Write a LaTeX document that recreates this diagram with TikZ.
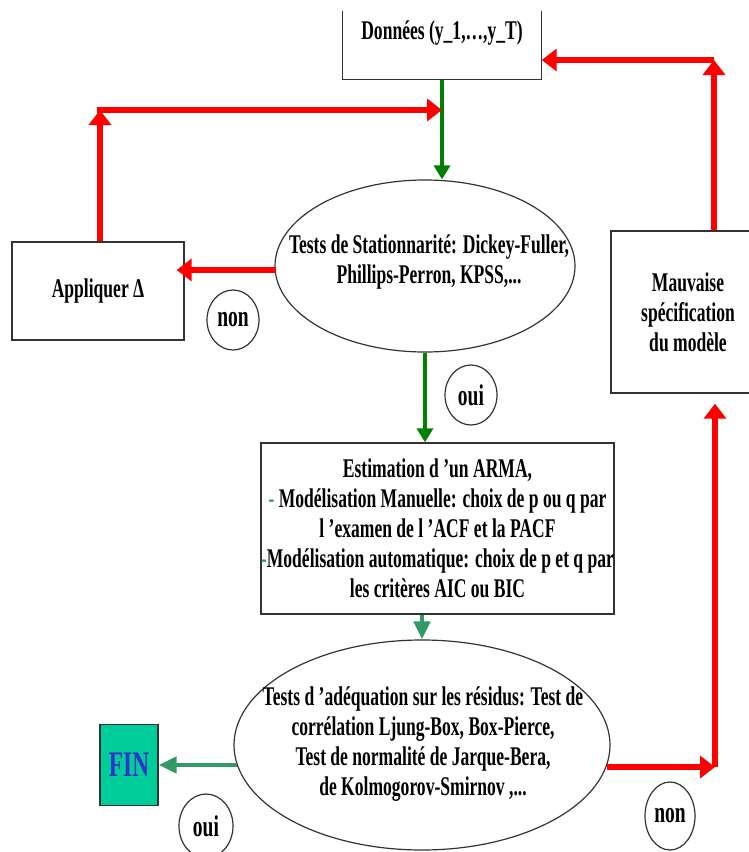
\documentclass[tikz,border=0pt]{standalone}
\usepackage{fontspec}
\usetikzlibrary{arrows.meta, shapes.geometric, calc}
\newfontfamily\chartfont[FakeStretch=0.65]{Liberation Serif}
\definecolor{darkgreen}{RGB}{0,128,0}
\definecolor{seagreen}{RGB}{51,153,102}
\definecolor{finfill}{RGB}{0,204,153}
\definecolor{finblue}{RGB}{51,51,204}
\tikzstyle{box} = [rectangle, draw=black!80, line width=1.4pt, inner sep=0pt, align=center]
\tikzstyle{oval} = [ellipse, draw=black!80, line width=1.2pt, inner sep=0pt]
\tikzstyle{txt} = [align=center, font=\chartfont\bfseries\fontsize{27}{30}\selectfont]
\tikzstyle{choice} = [ellipse, draw=black!80, line width=1.2pt, inner sep=0pt, font=\chartfont\bfseries\fontsize{30}{30}\selectfont]
\tikzstyle{redarrow} = [red, line width=6.5pt, -{Triangle[length=15pt, width=22pt]}]
\tikzstyle{greenarrow} = [darkgreen, line width=4pt, -{Triangle[length=14pt, width=16pt]}]
\tikzstyle{seaarrow} = [seagreen, line width=4.5pt, -{Triangle[length=18pt, width=16pt]}]

\begin{document}
\begin{tikzpicture}[x=1pt, y=-1pt]
        \useasboundingbox (0,0) rectangle (749,852);
        \clip (0,0) rectangle (749,852);
        % boxes and tests
        \node (data) [box, txt, draw=none, minimum width=198pt, minimum height=92pt] at (442,33) {Donn\'ees (y\_1,\dots,y\_T)};
        \draw [black!80, line width=1.4pt] ($(data.south west)+(0,-69)$) -- (data.south west) -- (data.south east) -- ($(data.south east)+(0,-69)$);
        \node (stat) [oval, minimum width=300pt, minimum height=172pt] at (425,266) {};
        \node (stattxt) [txt] at (429,262) {Tests de Stationnarit\'e: Dickey-Fuller,\\ Phillips-Perron, KPSS,...};
        \node (appl) [box, txt, minimum width=172pt, minimum height=98pt] at (98,291) {Appliquer Δ};
        \node (arma) [box, txt, minimum width=341pt, minimum height=171pt] at (437.5,528.5) {Estimation d ’un ARMA,\\
            {\color{seagreen}-} Mod\'elisation Manuelle: choix de p ou q par\\
            l ’examen de l ’ACF et la PACF\\
            {\color{seagreen}-}Mod\'elisation automatique: choix de p et q par\\
            les crit\`eres AIC ou BIC};
        \node (resid) [oval, minimum width=376pt, minimum height=210pt] at (422,745) {};
        \node (residtxt) [txt] at (423,744) {Tests d ’ad\'equation sur les r\'esidus: Test de\\
            corr\'elation Ljung-Box, Box-Pierce,\\
            Test de normalit\'e de Jarque-Bera,\\
            de Kolmogorov-Smirnov ,...};
        \node (mauv) [box, txt, minimum width=154pt, minimum height=162pt] at (688,312) {Mauvaise\\ sp\'ecification\\ du mod\`ele};
        \node (fin) [box, fill=finfill, minimum width=58pt, minimum height=81pt, text=finblue, font=\chartfont\bfseries\fontsize{36}{36}\selectfont] at (129,765) {FIN};
        % answers
        \node (non1) [choice, minimum width=52pt, minimum height=60pt] at (233,320) {non};
        \node (oui1) [choice, minimum width=52pt, minimum height=60pt] at (471,395) {oui};
        \node (oui2) [choice, minimum width=54pt, minimum height=64pt] at (206,826) {oui};
        \node (non2) [choice, minimum width=50pt, minimum height=68pt] at (670,816) {non};
        % corners
        \coordinate (tl) at (100,110);
        \coordinate (tr) at (714,60);
        \coordinate (br) at (715,767);
        % connectors
        \draw [greenarrow] (data.south) -- (data.south |- stat.north);
        \draw [greenarrow] (stat.south) -- (stat.south |- arma.north);
        \draw [seaarrow] (arma.south -| resid.north) -- (resid.north);
        \draw [redarrow, shorten >=-8pt] ($(stat.west)+(2,4)$) -- ($(appl.east)+(0,-21)$);
        \draw [redarrow] (appl.north -| tl) -- (tl);
        \draw [redarrow, line cap=rect] (tl) -- (tl -| data.south);
        \draw [redarrow] (tr |- mauv.north) -- (tr);
        \draw [redarrow] (tr) -- (tr -| data.east);
        \draw [redarrow] ($(resid.east |- br)+(-4,0)$) -- (br);
        \draw [redarrow, shorten >=10pt] (br) -- (br |- mauv.south);
        \draw [seaarrow] ($(resid.west |- fin)+(4,0)$) -- (fin.east);
    \end{tikzpicture}
\end{document}
